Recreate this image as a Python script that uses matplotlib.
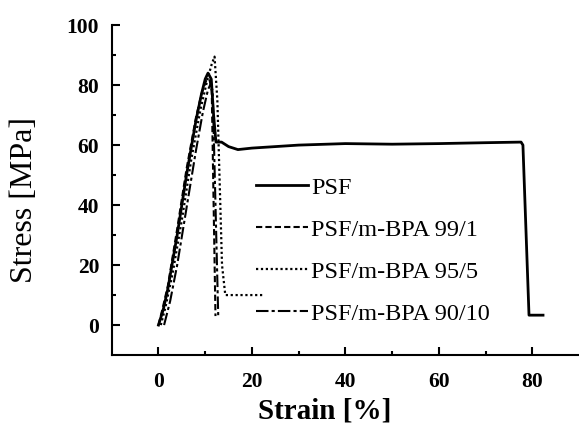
import numpy as np
import matplotlib
matplotlib.use("Agg")
from matplotlib import pyplot as plt

# curvas (strain %, stress MPa)
psf_x = [0, 1, 2, 4, 6, 8, 9.2, 10, 10.6, 11.3, 11.8, 12.3, 13.5, 15, 17, 20, 25, 30, 40, 50, 60, 70, 77.6, 78.0, 79.3, 82.3]
psf_y = [0, 5, 12, 30, 50, 68, 77, 82, 84, 82, 70, 61, 61, 59.5, 58.5, 59, 59.5, 60, 60.5, 60.3, 60.5, 60.8, 61, 60, 3.3, 3.3]

b99_x = [0, 0.8, 2, 4, 6, 8, 9.2, 10.2, 10.9, 11.4, 12.2]
b99_y = [0, 5, 13, 32, 52, 69, 77, 81.5, 82, 78, 3]

b95_x = [0.5, 1.5, 3, 5, 7, 9, 10.5, 11.4, 12.0, 12.6, 13.6, 14.3, 22.4]
b95_y = [0, 6, 17, 35, 55, 72, 82, 87, 89.5, 75, 20, 10, 10]

b90_x = [1.2, 2.5, 4, 6, 8, 9.5, 10.6, 11.2, 11.6, 12.8]
b90_y = [0, 8, 20, 39, 58, 71, 78.5, 80.5, 78, 2.3]

labels = ["PSF", "PSF/m-BPA 99/1", "PSF/m-BPA 95/5", "PSF/m-BPA 90/10"]

plt.rcParams['font.family'] = ['Liberation Serif', 'DejaVu Serif']

fig = plt.figure(figsize=(5.79, 4.33), dpi=100)
ax = fig.add_axes([0.193, 0.180, 0.807, 0.762])

ax.plot(psf_x, psf_y, color="black", lw=2.0, ls="-", label=labels[0])
ax.plot(b99_x, b99_y, color="black", lw=1.5, ls=(0, (3, 1.5)), label=labels[1])
ax.plot(b95_x, b95_y, color="black", lw=1.6, ls=(0, (1, 1.2)), label=labels[2])
ax.plot(b90_x, b90_y, color="black", lw=1.5, ls=(0, (6, 1.5, 1.5, 1.5)), label=labels[3])

ax.set_xlim(-10, 90)
ax.set_ylim(-10, 100)
ax.set_xticks([0, 20, 40, 60, 80])
ax.set_xticks([10, 30, 50, 70], minor=True)
ax.set_yticks([0, 20, 40, 60, 80, 100])
ax.set_yticks([10, 30, 50, 70, 90], minor=True)

for s in ["top", "right"]:
    ax.spines[s].set_visible(False)
for s in ["left", "bottom"]:
    ax.spines[s].set_linewidth(1.5)

ax.tick_params(which="major", direction="in", length=6, width=1.5, labelsize=15.5, pad=9)
ax.tick_params(axis="x", which="major", pad=12)
ax.tick_params(which="minor", direction="in", length=3, width=1.5)
for t in ax.get_xticklabels() + ax.get_yticklabels():
    t.set_fontweight("bold")

ax.set_xlabel("Strain [%]", fontsize=21, fontweight="bold")
ax.xaxis.set_label_coords(0.456, -0.13)
ax.xaxis.label.set_va("top")
ax.set_ylabel("Stress [MPa]", fontsize=23)
ax.yaxis.set_label_coords(-0.155, 0.47)

ax.legend(loc="upper left", bbox_to_anchor=(0.287, 0.57), frameon=False, fontsize=17.5,
          handlelength=2.15, handletextpad=0.15, labelspacing=0.82, borderaxespad=0)

fig.savefig("out.png", dpi=100)
